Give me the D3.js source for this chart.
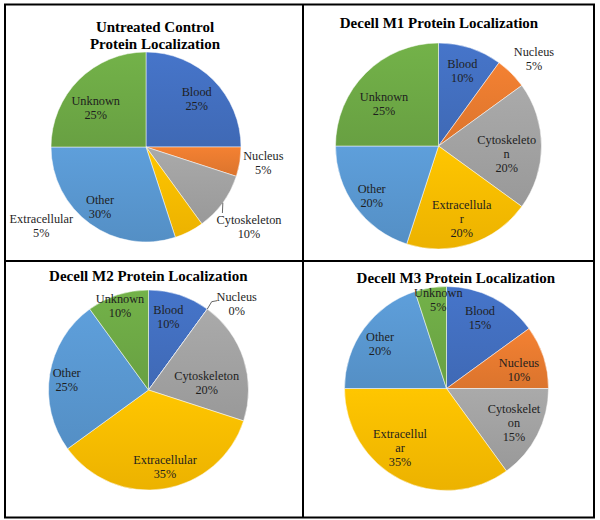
<!DOCTYPE html>
<html>
<head>
<meta charset="utf-8">
<script src="https://cdn.jsdelivr.net/npm/d3@7"></script>
<style>
  body { margin: 0; background: #fff; }
  svg { display: block; }
</style>
</head>
<body>
<script>
'use strict';

// categories and colours, same order in every pie (clockwise from 12 o'clock)
const categories = ["Blood", "Nucleus", "Cytoskeleton", "Extracellular", "Other", "Unknown"];
const sliceColors = ["#4472C4", "#ED7D31", "#A5A5A5", "#FFC000", "#5B9BD5", "#70AD47"];

// percentages per condition
const untreatedValues = [25, 5, 10, 5, 30, 25];
const m1Values = [10, 5, 20, 20, 20, 25];
const m2Values = [10, 0, 20, 35, 25, 10];
const m3Values = [15, 10, 15, 35, 20, 5];

const chartTitles = [
  ["Untreated Control", "Protein Localization"],
  ["Decell M1 Protein Localization"],
  ["Decell M2 Protein Localization"],
  ["Decell M3 Protein Localization"]
];

// layout of each panel: pie centre, radius, title spot, label offsets from centre
const panels = [
  { values: untreatedValues, cx: 146, cy: 147, r: 95, tx: 155, ty: 32,
    labels: [[50.7, -55.3], [117.3, 9], [103, 72.5], [-104.7, 71.5], [-46, 52.3], [-50.3, -46.3]],
    wrap: {},
    leaders: [{ i: 2, pts: [[76.4, 66]] }] },
  { values: m1Values, cx: 438.5, cy: 146, r: 103, tx: 439, ty: 28,
    labels: [[23.8, -82.7], [95.5, -94.3], [68.2, -6], [23.2, 59], [-66.8, 42.3], [-54.5, -49.3]],
    wrap: { 2: ["Cytoskeleto", "n"], 3: ["Extracellula", "r"] },
    leaders: [] },
  { values: m2Values, cx: 148.5, cy: 390, r: 100, tx: 148.3, ty: 280.5,
    labels: [[19.8, -80.7], [88.2, -93.3], [58.2, -14], [16.5, 70], [-81.8, -17.7], [-28.5, -91.7]],
    wrap: {},
    leaders: [{ i: 1, pts: [[63.2, -88.3], [68.5, -89.3]] }] },
  { values: m3Values, cx: 446.5, cy: 388.5, r: 102, tx: 455.8, ty: 282.5,
    labels: [[33.5, -77.8], [72.5, -25.8], [67.5, 19.8], [-46.5, 44.8], [-66.5, -51.8], [-8.2, -96.2]],
    wrap: { 2: ["Cytoskelet", "on"], 3: ["Extracellul", "ar"] },
    leaders: [] }
];

const width = 600, height = 520;
const lineGap = 14;
const serif = '"Liberation Serif"';

const svg = d3.select("body").append("svg")
  .attr("width", width)
  .attr("height", height);

svg.append("rect").attr("width", width).attr("height", height).attr("fill", "#fff");

// gradient fills, lighter at the top of each slice
const defs = svg.append("defs");
sliceColors.forEach((c, i) => {
  let g = defs.append("linearGradient")
    .attr("id", "grad" + i)
    .attr("x1", 0).attr("y1", 0).attr("x2", 0).attr("y2", 1);
  g.append("stop").attr("offset", "0%").attr("stop-color", d3.color(c).brighter(0.08));
  g.append("stop").attr("offset", "100%").attr("stop-color", d3.color(c).darker(0.22));
});

const pie = d3.pie().sort(null).value(d => d);

panels.forEach((p, k) => {
  let g = svg.append("g").attr("transform", `translate(${p.cx},${p.cy})`);
  let arc = d3.arc().innerRadius(0).outerRadius(p.r);
  let arcs = pie(p.values);

  g.selectAll("path")
    .data(arcs)
    .enter()
    .append("path")
    .attr("d", arc)
    .attr("fill", (d, i) => "url(#grad" + i + ")")
    .attr("stroke", "#fff")
    .attr("stroke-opacity", 0.7)
    .attr("stroke-width", 0.7);

  // leader lines, starting on the rim at the slice middle
  p.leaders.forEach(l => {
    let a = arcs[l.i];
    let mid = (a.startAngle + a.endAngle) / 2;
    let start = d3.pointRadial(mid, p.r);
    g.append("path")
      .attr("d", d3.line()([start].concat(l.pts)))
      .attr("fill", "none")
      .attr("stroke", "#404040")
      .attr("stroke-width", 0.8);
  });

  // slice labels: name (maybe wrapped) and percent
  arcs.forEach((a, i) => {
    let lines = (p.wrap[i] || [categories[i]]).concat([a.data + "%"]);
    let t = g.append("text")
      .attr("text-anchor", "middle")
      .style("font-family", serif)
      .style("font-size", "12.3px")
      .attr("fill", "#1e1e1e");
    lines.forEach((s, j) => {
      t.append("tspan")
        .attr("x", p.labels[i][0])
        .attr("y", p.labels[i][1] + j * lineGap)
        .attr("dy", "0.35em")
        .text(s);
    });
  });

  // title
  let title = svg.append("text")
    .attr("text-anchor", "middle")
    .style("font-family", serif)
    .style("font-weight", "bold")
    .style("font-size", "15px")
    .attr("fill", "#000");
  chartTitles[k].forEach((s, j) => {
    title.append("tspan")
      .attr("x", p.tx)
      .attr("y", p.ty + j * 17)
      .text(s);
  });
});

// frame and panel dividers
svg.append("rect")
  .attr("x", 5).attr("y", 4.5)
  .attr("width", 589).attr("height", 513)
  .attr("fill", "none")
  .attr("stroke", "#000")
  .attr("stroke-width", 2);

svg.append("line")
  .attr("x1", 303).attr("x2", 303).attr("y1", 4.5).attr("y2", 517.5)
  .attr("stroke", "#000").attr("stroke-width", 2);

svg.append("line")
  .attr("x1", 5).attr("x2", 594).attr("y1", 261).attr("y2", 261)
  .attr("stroke", "#000").attr("stroke-width", 2);
</script>
</body>
</html>
